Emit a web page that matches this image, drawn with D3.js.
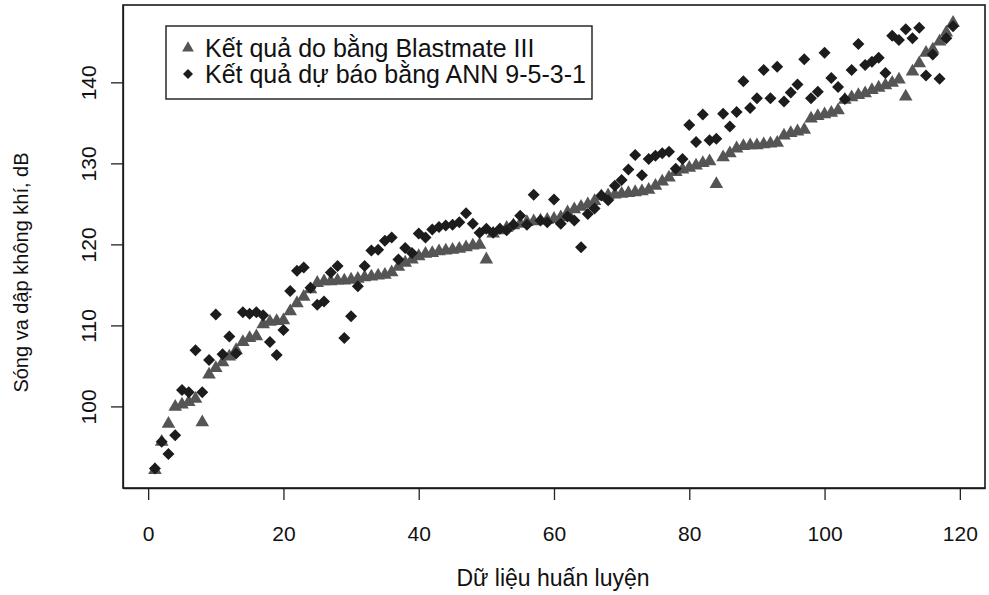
<!DOCTYPE html>
<html>
<head>
<meta charset="utf-8">
<script src="https://cdn.jsdelivr.net/npm/d3@7"></script>
<style>
  body { margin: 0; background: #fff; }
  svg text { font-family: "Liberation Sans", Arial, sans-serif; fill: #111; }
</style>
</head>
<body>
<div id="chart"></div>
<script>
'use strict';

// Kết quả do bằng Blastmate III (triangles)
const measured = [
  92.2, 95.7, 97.9, 100.0, 100.3, 100.6, 101.0, 98.1, 104.0, 104.8,
  105.5, 106.2, 107.0, 108.0, 108.5, 108.7, 110.2, 110.5, 110.6, 110.7,
  111.8, 112.8, 113.6, 114.5, 115.3, 115.5, 115.5, 115.6, 115.6, 115.7,
  115.8, 116.0, 116.1, 116.2, 116.3, 116.6, 117.3, 117.8, 118.2, 118.6,
  118.9, 119.0, 119.2, 119.3, 119.4, 119.5, 119.7, 119.9, 120.0, 118.2,
  121.4, 121.8, 122.1, 122.4, 122.6, 122.8, 122.9, 123.0, 123.1, 123.2,
  123.4, 124.0, 124.4, 124.7, 125.0, 125.4, 126.0, 126.1, 126.2, 126.3,
  126.4, 126.5, 126.6, 126.8, 127.3, 127.8, 128.3, 129.0, 129.3, 129.5,
  129.8, 130.1, 130.3, 127.5, 130.8, 131.3, 131.9, 132.2, 132.3, 132.3,
  132.4, 132.5, 132.6, 133.5, 133.8, 134.0, 134.2, 135.6, 135.9, 136.1,
  136.3, 136.6, 137.9, 138.2, 138.5, 138.7, 139.1, 139.4, 139.7, 140.0,
  140.4, 138.3, 141.4, 142.4, 143.7, 144.1, 145.1, 146.2, 147.4
];

// Kết quả dự báo bằng ANN 9-5-3-1 (diamonds)
const predicted = [
  92.4, 95.7, 94.2, 96.5, 102.1, 101.8, 107.0, 101.8, 105.8, 111.4,
  106.5, 108.7, 106.6, 111.7, 111.5, 111.7, 111.3, 108.0, 106.4, 109.5,
  114.3, 116.8, 117.2, 114.7, 112.6, 113.0, 116.6, 117.4, 108.5, 111.2,
  114.9, 117.4, 119.3, 119.4, 120.5, 120.9, 118.2, 119.6, 119.0, 121.4,
  120.9, 121.9, 122.2, 122.4, 122.5, 122.8, 123.9, 122.6, 121.5, 122.0,
  121.5, 122.0, 121.8, 122.5, 123.6, 122.5, 126.2, 123.0, 122.8, 125.6,
  122.6, 123.5, 123.0, 119.7, 123.8, 124.5, 126.1, 125.5, 127.3, 128.0,
  129.3, 131.1, 128.6, 130.6, 131.0, 131.3, 131.5, 129.4, 130.6, 134.8,
  132.7, 136.1, 132.9, 133.1, 136.2, 134.6, 136.4, 140.2, 136.9, 138.1,
  141.6, 138.1, 142.0, 137.7, 138.8, 139.8, 142.9, 138.1, 138.9, 143.7,
  140.6, 139.5, 138.0, 141.6, 144.8, 142.2, 142.6, 143.1, 141.2, 145.8,
  145.3, 146.6, 145.5, 146.8, 140.9, 143.5, 140.5, 145.5, 147.0
];

const xTicks = [0, 20, 40, 60, 80, 100, 120];
const yTicks = [100, 110, 120, 130, 140];
const legendLabels = ['Kết quả do bằng Blastmate III', 'Kết quả dự báo bằng ANN 9-5-3-1'];
const xTitle = 'Dữ liệu huấn luyện';
const yTitle = 'Sóng va dập không khí, dB';

const W = 989;
const H = 595;
const box = { left: 123, right: 985, top: 5, bottom: 488 };
const triColor = '#555';
const diaColor = '#1c1c1c';

const svg = d3.select('#chart')
  .append('svg')
  .attr('width', W)
  .attr('height', H);

// R style: 4% padding around the data range
const n = measured.length;
const padX = 0.04 * (n - 1);
const xScale = d3.scaleLinear()
  .domain([1 - padX, n + padX])
  .range([box.left, box.right]);

const yExt = d3.extent(measured.concat(predicted));
const padY = 0.04 * (yExt[1] - yExt[0]);
const yScale = d3.scaleLinear()
  .domain([yExt[0] - padY, yExt[1] + padY])
  .range([box.bottom, box.top]);

const xAxis = svg.append('g')
  .attr('transform', `translate(0, ${box.bottom})`)
  .call(d3.axisBottom(xScale).tickValues(xTicks).tickSize(12).tickSizeOuter(0));

const yAxis = svg.append('g')
  .attr('transform', `translate(${box.left}, 0)`)
  .call(d3.axisLeft(yScale).tickValues(yTicks).tickSize(12).tickSizeOuter(0));

[xAxis, yAxis].forEach((g) => {
  g.select('.domain').attr('stroke', '#222').attr('stroke-width', 1.3);
  g.selectAll('.tick line').attr('stroke', '#222').attr('stroke-width', 1.3);
  g.selectAll('.tick text')
    .attr('fill', '#222')
    .style('font-size', '21px');
});

xAxis.selectAll('.tick text').attr('dy', '0.35em').attr('y', 46);

yAxis.selectAll('.tick text')
  .attr('x', null)
  .attr('dy', null)
  .attr('text-anchor', 'middle')
  .attr('transform', (d) => `translate(-35, ${yScale(d)}) rotate(-90)`)
  .attr('y', 0)
  .attr('dominant-baseline', 'central');
yAxis.selectAll('.tick text').each(function(d) {
  d3.select(this.parentNode).attr('transform', null);
  d3.select(this.parentNode).select('line')
    .attr('transform', `translate(0, ${yScale(d)})`);
});

// plot frame
svg.append('rect')
  .attr('x', box.left)
  .attr('y', box.top)
  .attr('width', box.right - box.left)
  .attr('height', box.bottom - box.top)
  .attr('fill', 'none')
  .attr('stroke', '#1a1a1a')
  .attr('stroke-width', 1.6);

const tri = d3.symbol().type(d3.symbolTriangle).size(80);
const diamond = (r) => `M0,${-r}L${r},0L0,${r}L${-r},0Z`;

svg.append('g')
  .selectAll('path')
  .data(measured)
  .enter()
  .append('path')
  .attr('d', tri)
  .attr('transform', (d, i) => `translate(${xScale(i + 1)}, ${yScale(d)})`)
  .attr('fill', triColor);

svg.append('g')
  .selectAll('path')
  .data(predicted)
  .enter()
  .append('path')
  .attr('d', diamond(6))
  .attr('transform', (d, i) => `translate(${xScale(i + 1)}, ${yScale(d)})`)
  .attr('fill', diaColor);

// legend
const legend = svg.append('g').attr('transform', 'translate(166, 26)');
legend.append('rect')
  .attr('width', 426)
  .attr('height', 73)
  .attr('fill', '#fff')
  .attr('stroke', '#1a1a1a')
  .attr('stroke-width', 1.4);

legend.append('path')
  .attr('d', d3.symbol().type(d3.symbolTriangle).size(60))
  .attr('transform', 'translate(22, 22)')
  .attr('fill', triColor);
legend.append('path')
  .attr('d', diamond(5))
  .attr('transform', 'translate(22, 48)')
  .attr('fill', diaColor);

legend.selectAll('text.lg')
  .data(legendLabels)
  .enter()
  .append('text')
  .attr('class', 'lg')
  .attr('x', 39)
  .attr('y', (d, i) => 22 + i * 26)
  .attr('dy', '0.35em')
  .style('font-size', '25px')
  .text((d) => d);

// axis titles
svg.append('text')
  .attr('x', (box.left + box.right) / 2 - 1)
  .attr('y', 586)
  .attr('text-anchor', 'middle')
  .style('font-size', '23px')
  .text(xTitle);

svg.append('text')
  .attr('transform', `translate(28, ${(box.top + box.bottom) / 2 + 26}) rotate(-90)`)
  .attr('text-anchor', 'middle')
  .style('font-size', '20px')
  .text(yTitle);
</script>
</body>
</html>
